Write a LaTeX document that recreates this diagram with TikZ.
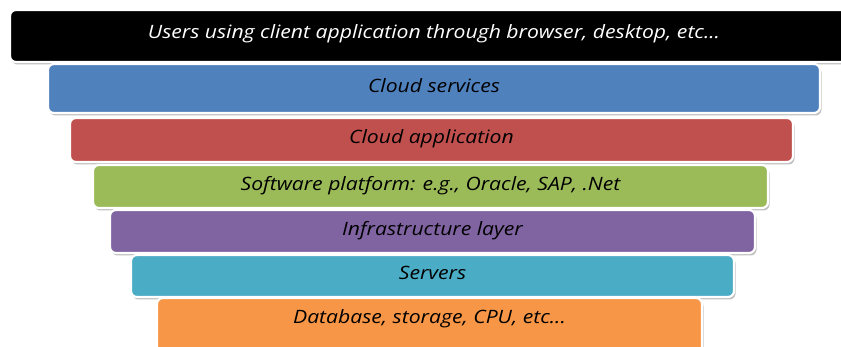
\documentclass[tikz,border=0pt]{standalone}
\usepackage{fontspec}
\setmainfont{Open Sans}[ItalicFeatures={FakeStretch=1.15}]
\usetikzlibrary{shadows}
\definecolor{lblue}{HTML}{4F81BD}
\definecolor{lred}{HTML}{C0504D}
\definecolor{lgreen}{HTML}{9BBB59}
\definecolor{lpurple}{HTML}{8064A2}
\definecolor{lteal}{HTML}{4BACC6}
\definecolor{lorange}{HTML}{F79646}
\tikzset{
  layerfont/.style={font=\fontsize{18.4}{21}\selectfont\itshape, text=black,
    text height=13.5pt, text depth=6pt},
  layer/.style={rounded corners=6pt, draw=white, line width=2.2pt,
    layerfont, inner sep=0pt,
    drop shadow={shadow xshift=1.5pt, shadow yshift=-2.5pt, fill=black!45, opacity=0.55}},
}
\newcommand{\layerbox}[7]{% name, x1, y1, x2, y2, fill, text
  \node[layer, fill=#6, minimum width={#4pt-#2pt}, minimum height={#5pt-#3pt}]
    (#1) at ({(#2+#4)/2}, {(#3+#5)/2}) {#7};}
\begin{document}
\begin{tikzpicture}[x=1pt, y=-1pt]
\useasboundingbox (0,0) rectangle (841,347);
\clip (0,0) rectangle (841,347);
\fill[white] (0,0) rectangle (841,347);
\node[layer, fill=black, text=white, minimum width=848pt, minimum height=52pt, text depth=9pt]
  (users) at (434,36) {Users using client application through browser, desktop, etc...};
\layerbox{cloudsvc}{48}{64}{820}{113}{lblue}{Cloud services}
\layerbox{cloudapp}{70}{118}{793}{162}{lred}{Cloud application}
\layerbox{platform}{93}{165}{768}{208}{lgreen}{Software platform: e.g., Oracle, SAP, .Net}
\layerbox{infra}{110}{210}{755}{253}{lpurple}{Infrastructure layer}
\layerbox{servers}{131}{255}{734}{297}{lteal}{Servers}
\node[layer, fill=lorange, minimum width=545pt, minimum height=70pt]
  (db) at (429.5,333) {};
\node[layerfont, inner sep=0pt] (dbtext) at (429.5,320) {Database, storage, CPU, etc...};
\end{tikzpicture}
\end{document}
